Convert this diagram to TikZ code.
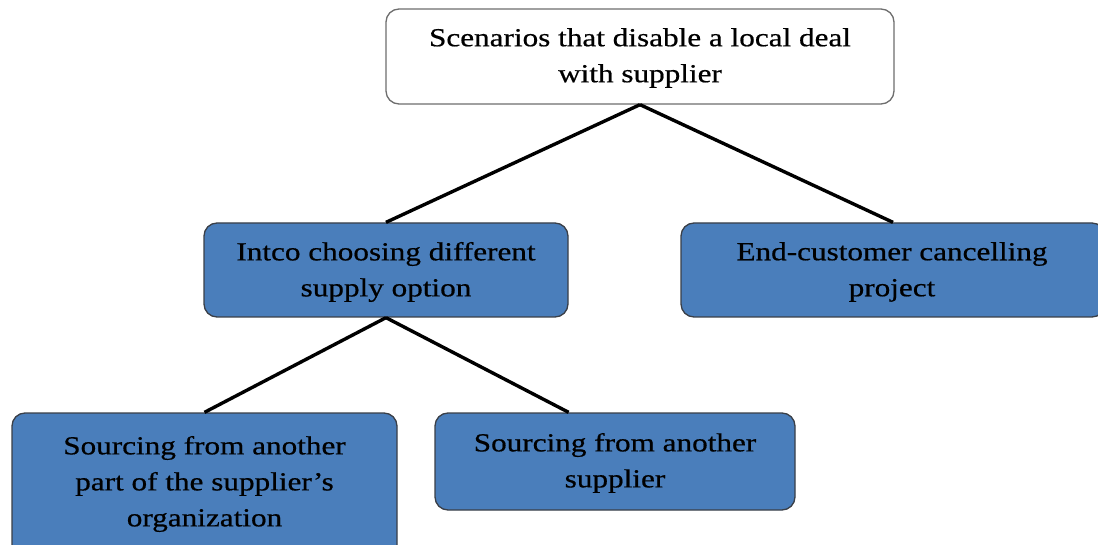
\documentclass[tikz,border=0pt]{standalone}
\usepackage{fontspec}
\setmainfont{Liberation Serif}[FakeStretch=1.2, FakeBold=0.6]
\usetikzlibrary{calc}
\definecolor{boxblue}{HTML}{4A7EBB}
\definecolor{boxedge}{HTML}{3A3F47}
\definecolor{topedge}{HTML}{6E6E6E}
\tikzset{
  card/.style={rounded corners=13pt, line width=1.3pt, align=center,
    font=\fontsize{26}{36}\selectfont, inner sep=0pt},
  topcard/.style={card, draw=topedge, fill=white},
  bluecard/.style={card, draw=boxedge, fill=boxblue},
  label/.style={align=center, font=\fontsize{26}{36}\selectfont, inner sep=0pt},
  link/.style={line width=3.4pt, black}
}
\begin{document}
\begin{tikzpicture}[x=1pt,y=-1pt]
  \clip (0,0) rectangle (1098,545);
  \fill[white] (0,0) rectangle (1098,545);

  % boxes of the scenario hierarchy
  \node[topcard, minimum width=508pt, minimum height=95pt] (root) at (640,56.5) {};
  \node[bluecard, minimum width=364pt, minimum height=94pt] (intco) at (386,270) {};
  \node[bluecard, minimum width=424pt, minimum height=94pt] (endc) at (893,270) {};
  \node[bluecard, minimum width=385pt, minimum height=150pt] (part) at (204.5,488) {};
  \node[bluecard, minimum width=360pt, minimum height=97pt] (other) at (615,461.5) {};

  % their texts
  \node[label] (roottext) at (640,58) {Scenarios that disable a local deal\\with supplier};
  \node[label] (intcotext) at (386,272) {Intco choosing different\\supply option};
  \node[label] (endctext) at (892,272) {End-customer cancelling\\project};
  \node[label] (parttext) at (204.5,484) {Sourcing from another\\part of the supplier’s\\organization};
  \node[label] (othertext) at (615,463) {Sourcing from another\\supplier};

  % connectors
  \draw[link] (root.south) -- (intco.north);
  \draw[link] (root.south) -- (endc.north);
  \draw[link] (intco.south) -- (part.north);
  \draw[link] (intco.south) -- (other.north -| intco.east);
\end{tikzpicture}
\end{document}
